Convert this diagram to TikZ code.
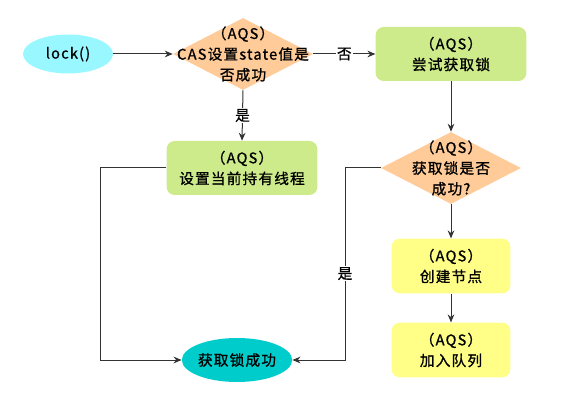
\documentclass[tikz,border=0pt]{standalone}
\usepackage{fontspec}
\setmainfont{Noto Sans CJK SC}[LetterSpace=8,FakeBold=1]
\usetikzlibrary{shapes.geometric,arrows.meta}
\definecolor{lockc}{RGB}{153,247,255}
\definecolor{decc}{RGB}{255,204,153}
\definecolor{greenc}{RGB}{205,235,139}
\definecolor{yelc}{RGB}{255,255,136}
\definecolor{tealc}{RGB}{0,204,204}
\definecolor{linec}{RGB}{51,51,51}
\begin{document}
\begin{tikzpicture}[x=0.75pt,y=-0.75pt,
  every node/.style={font=\fontsize{11pt}{15.5pt}\selectfont, align=center, inner sep=0pt},
  ell/.style={ellipse, draw=none},
  dec/.style={diamond, draw=none, fill=decc, minimum width=105pt, minimum height=54pt},
  boxg/.style={rectangle, rounded corners=6pt, fill=greenc, minimum width=113pt, minimum height=40.5pt},
  boxy/.style={rectangle, rounded corners=6pt, fill=yelc, minimum width=89pt, minimum height=41pt},
  conn/.style={draw=linec, line width=0.75pt, -{Stealth[length=6pt,width=5pt]}},
  lbl/.style={fill=white, inner sep=1pt}]
\useasboundingbox (0,0) rectangle (564,406);
\node[ell, fill=lockc, minimum width=67.5pt, minimum height=29.25pt] (lock) at (68,54) {lock()};
\node[dec] (d1) at (243,54) {};
\node (d1t) at (243,54) {（AQS）\\CAS设置state值是\\否成功};
\node[boxg] (b2) at (451,54) {（AQS）\\尝试获取锁};
\node[boxg] (b3) at (242,168) {（AQS）\\设置当前持有线程};
\node[dec] (d2) at (451,168) {};
\node (d2t) at (451,168) {（AQS）\\获取锁是否\\成功?};
\node[boxy] (b4) at (451,266) {（AQS）\\创建节点};
\node[boxy] (b5) at (451,350) {（AQS）\\加入队列};
\node[ell, fill=tealc, minimum width=81.75pt, minimum height=33pt] (ok) at (237,360) {获取锁成功};
\coordinate (k1) at (100,168);
\coordinate (k2) at (345,168);
\draw[conn] (lock.east) -- (d1.west);
\draw[conn] (d1.east) -- node[lbl] {否} (b2.west);
\draw[conn] (d1.south) -- node[lbl] {是} (b3.north);
\draw[conn] (b2.south) -- (d2.north);
\draw[conn] (b3.west) -- (k1) |- (ok.west);
\draw[conn] (d2.west) -- (k2) -- node[lbl, pos=0.55] {是} (k2 |- ok.east) -- (ok.east);
\draw[conn] (d2.south) -- (b4.north);
\draw[conn] (b4.south) -- (b5.north);
\end{tikzpicture}
\end{document}
